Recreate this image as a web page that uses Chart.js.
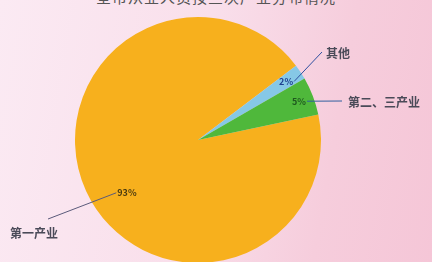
<!DOCTYPE html>
<html>
<head>
<meta charset="utf-8">
<script src="https://cdn.jsdelivr.net/npm/chart.js@4.4.1/dist/chart.umd.min.js"></script>
<style>
  html, body { margin: 0; padding: 0; overflow: hidden; }
  body {
    width: 432px; height: 262px;
    background: linear-gradient(100deg, #fbeaf3 0%, #f9dfeb 45%, #f6cddc 75%, #f5c6d7 100%);
    position: relative;
    font-family: "Noto Sans CJK SC", sans-serif;
  }
  #title {
    position: absolute; left: 0; width: 432px; top: -14px;
    text-align: center; font-size: 15px; color: #555; letter-spacing: 1px;
  }
  #wrap { position: absolute; left: 0; top: 0; width: 432px; height: 280px; }
</style>
</head>
<body>
<div id="title">全市从业人员按三次产业分布情况</div>
<div id="wrap"><canvas id="pieChart"></canvas></div>
<script>
// 数据
const labels = ['第一产业', '其他', '第二、三产业'];
const values = [93, 2, 5];
const colors = ['#f7b01d', '#86c8e6', '#4fb83b'];

// 标签和引线 (index -> 样式)
const labelStyle = [
  { r: 0.72, da: -12, text: '#4a3a10', line: '#5a5a7a', lx: 48, ly: 219, tx: 10, ty: 233 },
  { r: 0.86, da: 0, text: '#1f3f8f', line: '#2f4f9f', lx: 322, ly: 52, tx: 326, ty: 53 },
  { r: 0.88, da: 0, text: '#1f5a1f', line: '#2f5f9f', lx: 342, ly: 101, tx: 348, ty: 102 }
];

const leaderLabels = {
  id: 'leaderLabels',
  afterDraw(chart) {
    const ctx = chart.ctx;
    const arcs = chart.getDatasetMeta(0).data;
    arcs.forEach((arc, i) => {
      const s = labelStyle[i];
      const mid = (arc.startAngle + arc.endAngle) / 2 + s.da * Math.PI / 180;
      const px = arc.x + Math.cos(mid) * arc.outerRadius * s.r;
      const py = arc.y + Math.sin(mid) * arc.outerRadius * s.r;
      const pct = values[i] + '%';

      ctx.save();
      ctx.font = 'bold 9px "Noto Sans CJK SC", sans-serif';
      const w = ctx.measureText(pct).width;
      // 引线
      ctx.strokeStyle = s.line;
      ctx.lineWidth = 1;
      ctx.beginPath();
      const sx = s.lx > px ? px + w / 2 + 1 : px - w / 2 - 1;
      ctx.moveTo(sx, py);
      ctx.lineTo(s.lx, s.ly);
      ctx.stroke();
      // 百分比
      ctx.fillStyle = s.text;
      ctx.textAlign = 'center';
      ctx.textBaseline = 'middle';
      ctx.fillText(pct, px, py);
      // 类别
      ctx.font = 'bold 12px "Noto Sans CJK SC", sans-serif';
      ctx.fillStyle = '#4a4a58';
      ctx.textAlign = 'left';
      ctx.fillText(labels[i], s.tx, s.ty);
      ctx.restore();
    });
  }
};

const data = {
  labels: labels,
  datasets: [{
    data: values,
    backgroundColor: colors,
    borderWidth: 0
  }]
};

const config = {
  type: 'pie',
  data: data,
  options: {
    responsive: false,
    animation: false,
    rotation: 78,
    layout: {
      padding: { top: 17, bottom: 17, left: 75, right: 111 }
    },
    plugins: {
      legend: { display: false },
      tooltip: { enabled: false }
    }
  },
  plugins: [leaderLabels]
};

const canvas = document.getElementById('pieChart');
canvas.width = 432;
canvas.height = 280;
const pieChart = new Chart(canvas, config);
</script>
</body>
</html>
